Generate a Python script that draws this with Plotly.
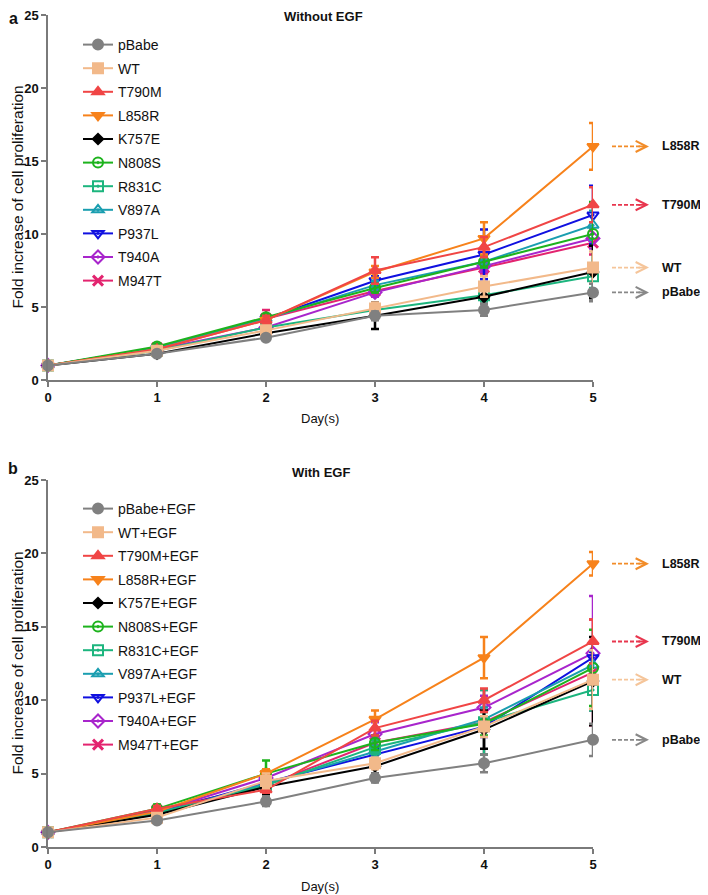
import plotly.graph_objects as go

days = [0, 1, 2, 3, 4, 5]
names = ["pBabe", "WT", "T790M", "L858R", "K757E", "N808S", "R831C", "V897A", "P937L", "T940A", "M947T"]

# Panel a: without EGF (mean fold increase)
a_pBabe = [1, 1.8, 2.9, 4.4, 4.8, 6.0]
a_WT = [1, 2.0, 3.4, 4.9, 6.4, 7.7]
a_T790M = [1, 2.1, 4.1, 7.5, 9.1, 12.0]
a_L858R = [1, 2.1, 4.1, 7.4, 9.7, 16.0]
a_K757E = [1, 1.8, 3.2, 4.4, 5.7, 7.4]
a_N808S = [1, 2.3, 4.3, 6.3, 8.1, 10.0]
a_R831C = [1, 2.0, 3.6, 4.8, 5.8, 7.1]
a_V897A = [1, 2.2, 4.2, 6.5, 8.1, 10.6]
a_P937L = [1, 2.2, 4.2, 6.8, 8.6, 11.3]
a_T940A = [1, 2.1, 3.6, 6.0, 7.8, 9.7]
a_M947T = [1, 2.2, 4.2, 6.1, 7.7, 9.4]

# Panel a error bars
ea_pBabe = [0, 0.1, 0.15, 0.3, 0.4, 0.6]
ea_WT = [0, 0.1, 0.2, 0.4, 0.7, 1.1]
ea_T790M = [0, 0.1, 0.3, 0.9, 0.7, 1.2]
ea_L858R = [0, 0.1, 0.2, 0.4, 1.1, 1.6]
ea_K757E = [0, 0.1, 0.2, 0.9, 0.5, 1.8]
ea_N808S = [0, 0.2, 0.2, 0.3, 0.4, 2.2]
ea_R831C = [0, 0.1, 0.2, 0.3, 0.4, 0.8]
ea_V897A = [0, 0.1, 0.2, 0.3, 0.4, 1.0]
ea_P937L = [0, 0.1, 0.3, 0.3, 1.7, 2.0]
ea_T940A = [0, 0.1, 0.2, 0.3, 0.4, 0.7]
ea_M947T = [0, 0.1, 0.6, 0.3, 0.4, 0.8]

# Panel b: with EGF
b_pBabe = [1, 1.8, 3.1, 4.7, 5.7, 7.3]
b_WT = [1, 2.0, 4.5, 5.7, 8.2, 11.4]
b_T790M = [1, 2.6, 3.9, 8.1, 10.0, 14.0]
b_L858R = [1, 2.4, 5.0, 8.7, 12.9, 19.3]
b_K757E = [1, 2.2, 4.1, 5.5, 8.0, 11.3]
b_N808S = [1, 2.6, 5.0, 7.1, 8.4, 12.2]
b_R831C = [1, 2.3, 4.2, 6.8, 8.5, 10.7]
b_V897A = [1, 2.3, 4.3, 6.5, 8.7, 12.4]
b_P937L = [1, 2.3, 4.4, 6.3, 8.2, 12.9]
b_T940A = [1, 2.4, 4.7, 7.7, 9.5, 13.2]
b_M947T = [1, 2.5, 4.2, 7.1, 8.5, 11.9]

eb_pBabe = [0, 0.1, 0.3, 0.3, 0.6, 1.1]
eb_WT = [0, 0.2, 0.5, 0.4, 0.7, 2.0]
eb_T790M = [0, 0.2, 0.2, 0.5, 0.8, 1.5]
eb_L858R = [0, 0.2, 0.3, 0.6, 1.4, 0.8]
eb_K757E = [0, 0.2, 0.5, 0.5, 1.3, 3.0]
eb_N808S = [0, 0.3, 0.9, 0.5, 0.8, 2.6]
eb_R831C = [0, 0.2, 0.3, 0.5, 2.2, 1.4]
eb_V897A = [0, 0.2, 0.3, 0.4, 0.8, 1.0]
eb_P937L = [0, 0.2, 0.3, 0.4, 0.7, 0.4]
eb_T940A = [0, 0.2, 0.3, 0.8, 0.8, 3.9]
eb_M947T = [0, 0.2, 0.3, 0.5, 2.2, 3.6]

a_means = [a_pBabe, a_WT, a_T790M, a_L858R, a_K757E, a_N808S, a_R831C, a_V897A, a_P937L, a_T940A, a_M947T]
a_errs = [ea_pBabe, ea_WT, ea_T790M, ea_L858R, ea_K757E, ea_N808S, ea_R831C, ea_V897A, ea_P937L, ea_T940A, ea_M947T]
b_means = [b_pBabe, b_WT, b_T790M, b_L858R, b_K757E, b_N808S, b_R831C, b_V897A, b_P937L, b_T940A, b_M947T]
b_errs = [eb_pBabe, eb_WT, eb_T790M, eb_L858R, eb_K757E, eb_N808S, eb_R831C, eb_V897A, eb_P937L, eb_T940A, eb_M947T]

colors = ["#808080", "#F2B98A", "#F04545", "#F7821B", "#000000", "#1DB31D",
          "#1CB57E", "#1A9EB0", "#1010E0", "#A825CC", "#E3246F"]
symbols = ["circle", "square", "triangle-up", "triangle-down", "diamond", "circle-open-dot",
           "square-open-dot", "triangle-up-open-dot", "triangle-down-open-dot", "diamond-open-dot", "x-thin-open"]
sizes = [10, 10, 10, 10, 8, 10, 10, 10, 10, 10, 10]

# annotated groups at the right of each panel
ann_names = ["L858R", "T790M", "WT", "pBabe"]
ann_colors = ["#F28C28", "#E8364E", "#F5C59A", "#888888"]

FONT = "Liberation Sans, Arial, sans-serif"

# the page body adds an 8px offset, so the figure is 8px smaller than the window
W, H = 700, 887
L, R, T, B = 40, 115, 7, 48
PW = W - L - R
PH = H - T - B


def px_x(p):
    # p = x position in window pixels
    return (p - 8 - L) / float(PW)


def px_y(p):
    # p = y position in window pixels
    return (H - B - (p - 8)) / float(PH)


fig = go.Figure()

panels = [("a", a_means, a_errs, "x", "y", "legend", ""),
          ("b", b_means, b_errs, "x2", "y2", "legend2", "+EGF")]

for pname, means, errs, xa, ya, leg, suffix in panels:
    for i in reversed(range(len(names))):
        sym = symbols[i]
        mline = dict(width=2, color=colors[i])
        if sym == "x-thin-open":
            mline = dict(width=3, color=colors[i])
        fig.add_trace(go.Scatter(
            x=days, y=means[i], xaxis=xa, yaxis=ya,
            name=names[i] + suffix, legend=leg, legendrank=i + 1,
            legendgroup=pname + names[i],
            mode="lines+markers",
            line=dict(color=colors[i], width=2),
            marker=dict(symbol=sym, size=sizes[i], color=colors[i], line=mline),
            error_y=dict(type="data", array=errs[i], color=colors[i], thickness=2.5, width=4),
            cliponaxis=False,
        ))

axis_common = dict(showgrid=False, zeroline=False, showline=True, linecolor="#7a7a7a",
                   linewidth=1.5, ticks="outside", ticklen=5, tickcolor="#7a7a7a", tickwidth=1.5,
                   automargin=False, ticklabeloverflow="allow",
                   tickfont=dict(family=FONT, size=13, color="#111", weight="bold"))

fig.update_layout(
    width=W, height=H,
    margin=dict(l=L, r=R, t=T, b=B, autoexpand=False),
    paper_bgcolor="white", plot_bgcolor="white",
    font=dict(family=FONT, color="#111"),
    xaxis=dict(domain=[0, 1], range=[0, 5], dtick=1, anchor="y", **axis_common),
    yaxis=dict(domain=[px_y(380), 1.0], range=[0, 25], dtick=5, anchor="x", **axis_common),
    xaxis2=dict(domain=[0, 1], range=[0, 5], dtick=1, anchor="y2", **axis_common),
    yaxis2=dict(domain=[0, px_y(480)], range=[0, 25], dtick=5, anchor="x2", **axis_common),
    legend=dict(x=px_x(78), y=px_y(29), xanchor="left", yanchor="top",
                traceorder="grouped", tracegroupgap=2.4, bgcolor="rgba(0,0,0,0)",
                font=dict(family=FONT, size=14, color="#111")),
    legend2=dict(x=px_x(78), y=px_y(493), xanchor="left", yanchor="top",
                 traceorder="grouped", tracegroupgap=2.4, bgcolor="rgba(0,0,0,0)",
                 font=dict(family=FONT, size=14, color="#111")),
    showlegend=True,
)

annotations = []
shapes = []


def txt(text, xp, yp, size, weight="normal", angle=0, xanchor="center"):
    return dict(text=text, x=px_x(xp), y=px_y(yp), xref="paper", yref="paper",
                xanchor=xanchor, yanchor="middle", textangle=angle, showarrow=False,
                font=dict(family=FONT, size=size, color="#111", weight=weight))


annotations.append(txt("a", 13, 19, 16, "bold"))
annotations.append(txt("b", 13, 468, 16, "bold"))
annotations.append(txt("Without EGF", 323, 17, 13, "bold"))
annotations.append(txt("With EGF", 321, 472, 13, "bold"))
for xtitle_px, ymid in [(418, (15 + 380) / 2.0), (886, (480 + 847) / 2.0)]:
    annotations.append(txt("Day(s)", 320, xtitle_px, 13))
    annotations.append(txt("Fold increase of cell proliferation", 17, ymid, 15.5, angle=-90))

for pname, means, errs, xa, ya, leg, suffix in panels:
    for nm, col in zip(ann_names, ann_colors):
        yv = means[names.index(nm)][-1]
        shapes.append(dict(type="line", xref="paper", yref=ya, x0=px_x(612), x1=px_x(640), y0=yv, y1=yv,
                           line=dict(color=col, width=1.8, dash="4px,2px")))
        annotations.append(dict(x=px_x(649), y=yv, xref="paper", yref=ya, ax=-12, ay=0, text="",
                                showarrow=True, arrowhead=5, arrowsize=1.2, arrowwidth=1.8, arrowcolor=col))
        annotations.append(dict(x=px_x(660), y=yv, xref="paper", yref=ya, text="<b>" + nm + "</b>",
                                showarrow=False, xanchor="left", yanchor="middle",
                                font=dict(family=FONT, size=12.5, color="#111")))

fig.update_layout(annotations=annotations, shapes=shapes)
fig.write_html("out.html")
